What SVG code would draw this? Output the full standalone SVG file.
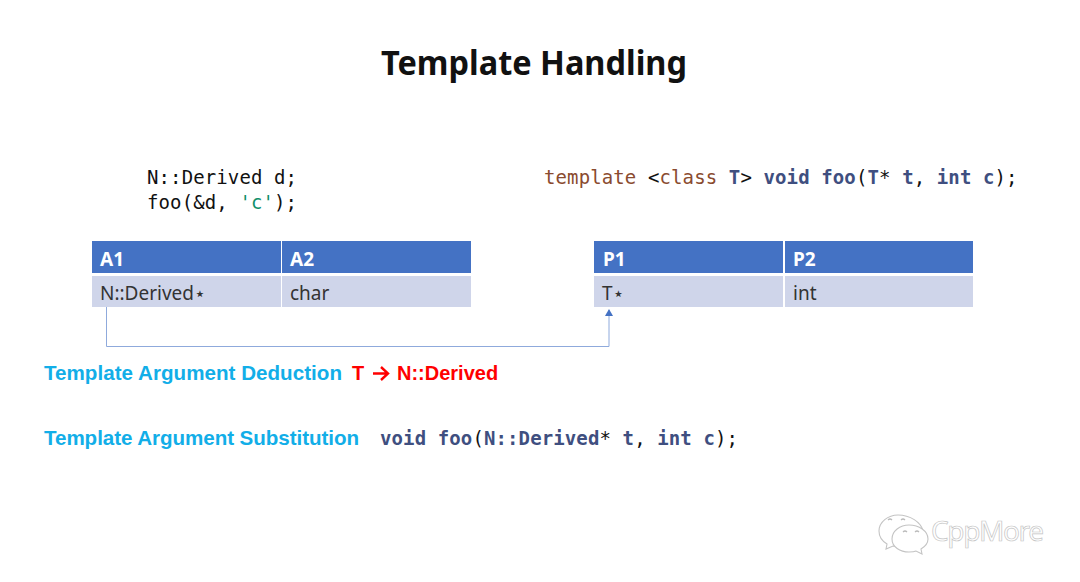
<svg xmlns="http://www.w3.org/2000/svg" width="1080" height="582" viewBox="0 0 1080 582">
<style>
text{font-family:"Noto Sans","Open Sans","DejaVu Sans",sans-serif}
.code{font-family:"DejaVu Sans Mono","Liberation Mono",monospace;font-size:19px;letter-spacing:.11px;fill:#111;white-space:pre}
.kw{fill:#8a4b2f}.ty{fill:#3f4f80;font-weight:bold}
.hd{fill:#4472c4}.rw{fill:#cfd5ea}
.th{fill:#fff;font-size:19px;font-weight:bold}
.td{fill:#333;font-size:19px}
.lab{font-family:"Liberation Sans",Arial,sans-serif;font-size:20.6px;font-weight:bold;fill:#12aee8}
.red{fill:#f00;font-size:20px}
.wm{fill:#fff;stroke:#c4c4c4;stroke-width:1.1}
</style>
<rect width="1080" height="582" fill="#fff"/>
<text id="title" x="381" y="75" font-size="34" font-weight="bold" fill="#111" textLength="306" lengthAdjust="spacingAndGlyphs">Template Handling</text>
<g id="code-left">
<text class="code" x="147" y="183.500">N::Derived d;</text>
<text class="code" x="147" y="208.500">foo(&amp;d, <tspan fill="#0f8f6a">'c'</tspan>);</text>
</g>
<g id="code-right">
<text class="code" x="544" y="183.500"><tspan class="kw">template</tspan> &lt;<tspan class="kw">class</tspan> <tspan class="ty">T</tspan>&gt; <tspan class="ty">void foo</tspan>(<tspan class="ty">T</tspan>* <tspan class="ty">t</tspan>, <tspan class="ty">int c</tspan>);</text>
</g>
<g id="table-a">
<rect class="hd" x="92" y="241" width="189" height="32"/>
<rect class="hd" x="282" y="241" width="189" height="32"/>
<rect class="rw" x="92" y="276" width="189" height="31"/>
<rect class="rw" x="282" y="276" width="189" height="31"/>
<text class="th" x="100" y="266">A1</text>
<text class="th" x="290" y="266">A2</text>
<text class="td" x="100" y="300">N::Derived⋆</text>
<text class="td" x="290" y="300">char</text>
</g>
<g id="table-p">
<rect class="hd" x="594" y="241" width="189" height="32"/>
<rect class="hd" x="785" y="241" width="188" height="32"/>
<rect class="rw" x="594" y="276" width="189" height="31"/>
<rect class="rw" x="785" y="276" width="188" height="31"/>
<text class="th" x="603" y="266">P1</text>
<text class="th" x="793" y="266">P2</text>
<text class="td" x="602" y="300">T⋆</text>
<text class="td" x="793" y="300">int</text>
</g>
<g id="connectors">
<path d="M106.500 307V346.500H609V310" fill="none" stroke="#8faadc" stroke-width="1"/>
<path d="M605 316L609 309L613 316Z" fill="#4472c4"/>
</g>
<g id="deduction">
<text class="lab" x="44" y="380" textLength="298">Template Argument Deduction</text>
<text class="lab red" x="352" y="380">T</text>
<path d="M373 373.500H387M381 367L388 373.500L381 380" fill="none" stroke="#f00" stroke-width="2.400"/>
<text class="lab red" x="397" y="380">N::Derived</text>
</g>
<g id="substitution">
<text class="lab" x="44" y="445" textLength="315">Template Argument Substitution</text>
<text class="code" x="380" y="444.500"><tspan class="ty">void foo</tspan>(<tspan class="ty">N::Derived</tspan>* <tspan class="ty">t</tspan>, <tspan class="ty">int c</tspan>);</text>
</g>
<g id="watermark">
<path class="wm" d="M898 515c-10 0-19 7-19 16 0 6 3 10 8 13l-1 5 7-3c3 1 6 1 9 1 6 0 12-3 15-7l6-9c-2-9-13-16-25-16z"/>
<path class="wm" d="M909 525c-9 0-17 6-17 14s8 13 17 13c3 0 5 0 7-1l6 3-1-5c5-3 7-6 7-10 0-8-9-14-19-14z"/>
<path d="M888 520q2-2 4 0M901 520q2-2 4 0M903 532q2-2 4 0M915 532q2-2 4 0" fill="none" stroke="#bbb" stroke-width="1.200"/>
<text x="931" y="541" font-size="28" fill="#fff" stroke="#c4c4c4" stroke-width=".7" font-family="Liberation Sans" textLength="113">CppMore</text>
</g>
</svg>
